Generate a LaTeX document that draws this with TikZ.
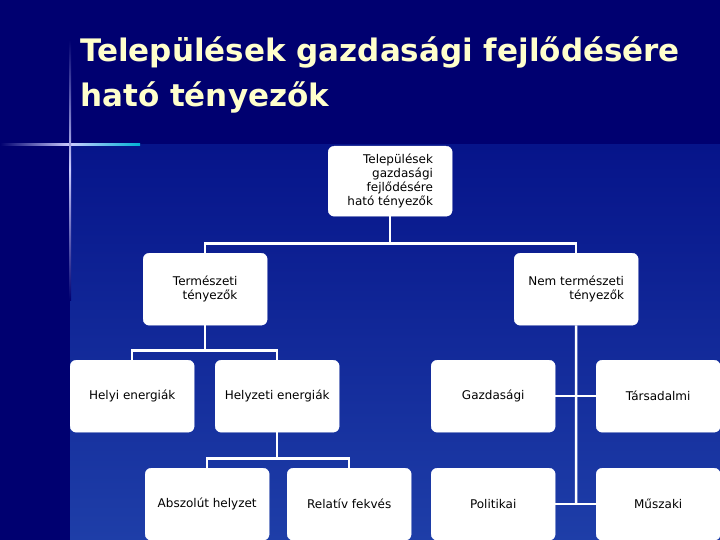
\documentclass[tikz,border=0pt]{standalone}
\usepackage{fontspec}
\setmainfont{DejaVu Sans}
\begin{document}
\begin{tikzpicture}[x=1pt,y=-1pt,
  bx/.style={draw=white,fill=white,rounded corners=6pt,minimum width=124pt,minimum height=72pt,anchor=north west,font=\fontsize{12}{14}\selectfont,text=black,inner sep=2pt},
  ln/.style={draw=white,line width=2.5pt}]
\definecolor{navy}{HTML}{000070}
\definecolor{bgtop}{HTML}{06148A}
\definecolor{bgbot}{HTML}{1E3EA8}
\definecolor{ttl}{HTML}{FFFFCC}
\useasboundingbox (0,0) rectangle (720,540);
\fill[navy] (0,0) rectangle (720,540);
\shade[top color=bgtop,bottom color=bgbot] (70,145) rectangle (720,540);
\shade[left color=navy,right color=navy!30!cyan,middle color=white!80!blue] (0,144) rectangle (140,146);
\shade[top color=navy,bottom color=navy,middle color=white!80!blue] (69,40) rectangle (71,300);
\node[anchor=west,text=ttl,font=\fontsize{31}{36}\bfseries\selectfont,inner sep=0] (t1) at (80,52) {Települések gazdasági fejlődésére};
\node[anchor=west,text=ttl,font=\fontsize{31}{36}\bfseries\selectfont,inner sep=0] (t2) at (80,97) {ható tényezők};
\node[bx,minimum width=124pt,minimum height=70pt,align=right] (root) at (328,146) {Települések\\gazdasági\\fejlődésére\\ható tényezők};
\node[bx,align=right] (term) at (143,253) {Természeti\\tényezők};
\node[bx,align=right] (nem) at (514,253) {Nem természeti\\tényezők};
\node[bx] (helyi) at (70,360) {Helyi energiák};
\node[bx] (helyz) at (215,360) {Helyzeti energiák};
\node[bx] (gazd) at (431,360) {Gazdasági};
\node[bx] (tars) at (596,360) {Társadalmi};
\node[bx,minimum height=72pt] (absz) at (145,468) {Abszolút helyzet};
\node[bx] (rel) at (287,468) {Relatív fekvés};
\node[bx] (pol) at (431,468) {Politikai};
\node[bx] (musz) at (596,468) {Műszaki};
\draw[ln] (root.south) -- ++(0,27) -| (term.north);
\draw[ln] (root.south) -- ++(0,27) -| (nem.north);
\draw[ln] (term.south) -- ++(0,25) -| (helyi.north);
\draw[ln] (term.south) -- ++(0,25) -| (helyz.north);
\draw[ln] (helyz.south) -- ++(0,26) -| (absz.north);
\draw[ln] (helyz.south) -- ++(0,26) -| (rel.north);
\coordinate (j) at (576,504);
\draw[ln] (nem.south) -- (j);
\draw[ln] (gazd.east) -- (tars.west);
\draw[ln] (pol.east) -- (musz.west);
\end{tikzpicture}
\end{document}
